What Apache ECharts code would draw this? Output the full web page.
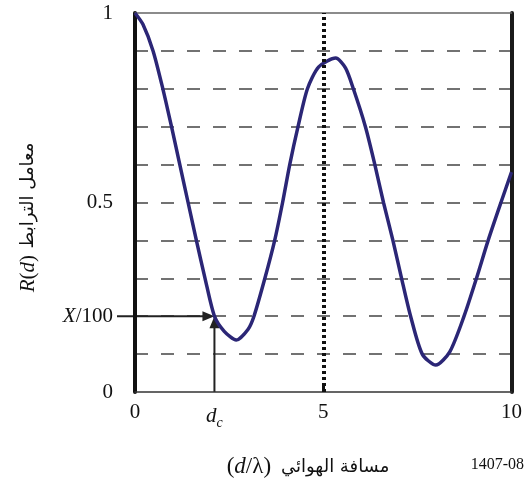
<!DOCTYPE html>
<html>
<head>
<meta charset="utf-8">
<script src="https://cdn.jsdelivr.net/npm/echarts@6/dist/echarts.min.js"></script>
<style>
  html, body { margin: 0; padding: 0; background: #fff; }
  #chart { width: 525px; height: 486px; }
</style>
</head>
<body>
<div id="chart"></div>
<script>
// distance d/lambda and correlation R(d)
const dValues = [0, 0.21, 0.48, 0.74, 0.97, 1.19, 1.41, 1.63, 1.86, 2.11, 2.37, 2.69, 3.0, 3.16, 3.45, 3.71, 3.92, 4.11, 4.33, 4.58, 4.88, 5.33, 5.59, 5.8, 6.12, 6.37, 6.6, 6.85, 7.08, 7.32, 7.63, 7.99, 8.36, 8.74, 9.07, 9.38, 9.72, 10]
const rValues = [1.0, 0.97, 0.9, 0.8, 0.7, 0.6, 0.5, 0.4, 0.3, 0.2, 0.16, 0.137, 0.165, 0.2, 0.3, 0.4, 0.5, 0.6, 0.7, 0.8, 0.858, 0.881, 0.855, 0.8, 0.7, 0.6, 0.5, 0.4, 0.3, 0.2, 0.1, 0.071, 0.106, 0.2, 0.3, 0.4, 0.5, 0.58]

// threshold X/100 and the distance d_c where the curve first drops to it
const threshold = [0.2]
const dcValue = [2.11]
const xTicks = [0, 5, 10]
const yLabelValues = [0, 0.5, 1]

const serif = '"Liberation Serif", "DejaVu Serif", serif'
const arabic = '"DejaVu Sans", sans-serif'

const chart = echarts.init(document.getElementById('chart'))

const near = (a, b) => Math.abs(a - b) < 1e-6

const option = {
  animation: false,
  grid: { left: 135, right: 11, top: 13, bottom: 94 },
  xAxis: [
    {
      type: 'value',
      min: 0,
      max: 10,
      interval: 5,
      axisLine: { onZero: false, lineStyle: { color: '#333', width: 1.5 } },
      axisTick: {
        inside: true,
        length: 9,
        customValues: [5],
        lineStyle: { color: '#111', width: 3 },
      },
      axisLabel: {
        customValues: xTicks.concat(dcValue),
        margin: 10,
        fontFamily: serif,
        fontSize: 21,
        color: '#111',
        formatter: (v) => (near(v, dcValue[0]) ? '{i|d}{s|c}' : String(v)),
        rich: {
          i: { fontFamily: serif, fontStyle: 'italic', fontSize: 21, color: '#111' },
          s: { fontFamily: serif, fontStyle: 'italic', fontSize: 14, color: '#111', padding: [14, 0, 0, 0] },
        },
      },
      splitLine: { show: false },
    },
    {
      type: 'value',
      position: 'top',
      min: 0,
      max: 10,
      axisLine: { onZero: false, lineStyle: { color: '#666', width: 1.5 } },
      axisTick: { show: false },
      axisLabel: { show: false },
      splitLine: { show: false },
    },
  ],
  yAxis: [
    {
      type: 'value',
      min: 0,
      max: 1,
      interval: 0.1,
      axisLine: { show: true, onZero: false, lineStyle: { color: '#111', width: 4 } },
      axisTick: { show: false },
      axisLabel: {
        margin: 22,
        fontFamily: serif,
        fontSize: 21,
        color: '#111',
        formatter: (v) => {
          if (near(v, threshold[0])) return '{i|X}/100'
          for (const y of yLabelValues) if (near(v, y)) return String(y)
          return ''
        },
        rich: {
          i: { fontFamily: serif, fontStyle: 'italic', fontSize: 21, color: '#111' },
        },
      },
      splitLine: {
        show: true,
        showMinLine: false,
        showMaxLine: false,
        lineStyle: { color: '#444', width: 1.5, type: [13, 13] },
      },
    },
    {
      type: 'value',
      position: 'right',
      min: 0,
      max: 1,
      axisLine: { show: true, onZero: false, lineStyle: { color: '#1a1a1a', width: 4 } },
      axisTick: { show: false },
      axisLabel: { show: false },
      splitLine: { show: false },
    },
  ],
  series: [
    {
      type: 'line',
      data: dValues.map((d, i) => [d, rValues[i]]),
      smooth: 0.25,
      showSymbol: false,
      lineStyle: { color: '#2b2676', width: 3.5 },
      markLine: {
        silent: true,
        symbol: 'none',
        label: { show: false },
        lineStyle: { color: '#111', width: 4, type: [3, 3] },
        data: [{ xAxis: 5 }],
      },
    },
  ],
}

chart.setOption(option)

// arrows from X/100 to the curve and from d_c up to it
const pc = chart.convertToPixel({ gridIndex: 0 }, [dcValue[0], threshold[0]])
const p0 = chart.convertToPixel({ gridIndex: 0 }, [0, threshold[0]])
const pb = chart.convertToPixel({ gridIndex: 0 }, [dcValue[0], 0])
const pAxis = chart.convertToPixel({ gridIndex: 0 }, [0, 0])
const pTop = chart.convertToPixel({ gridIndex: 0 }, [0, 1])
const axisMidY = (pAxis[1] + pTop[1]) / 2
const arrowColor = '#222'

chart.setOption({
  graphic: [
    {
      type: 'line',
      shape: { x1: p0[0] - 18, y1: p0[1], x2: pc[0] - 8, y2: pc[1] },
      style: { stroke: arrowColor, lineWidth: 2 },
    },
    {
      type: 'polygon',
      shape: { points: [[pc[0], pc[1]], [pc[0] - 12, pc[1] - 5], [pc[0] - 12, pc[1] + 5]] },
      style: { fill: arrowColor },
    },
    {
      type: 'line',
      shape: { x1: pb[0], y1: pb[1], x2: pc[0], y2: pc[1] + 8 },
      style: { stroke: arrowColor, lineWidth: 2 },
    },
    {
      type: 'polygon',
      shape: { points: [[pc[0], pc[1]], [pc[0] - 5, pc[1] + 12], [pc[0] + 5, pc[1] + 12]] },
      style: { fill: arrowColor },
    },
    {
      // y axis title, rotated
      type: 'text',
      x: 28,
      y: axisMidY + 15,
      rotation: Math.PI / 2,
      style: {
        text: '{i|R}{n|(}{i|d}{n|)}  {a|معامل الترابط}',
        align: 'center',
        verticalAlign: 'middle',
        rich: {
          i: { fontFamily: serif, fontStyle: 'italic', fontSize: 21, fill: '#111' },
          n: { fontFamily: serif, fontSize: 21, fill: '#111' },
          a: { fontFamily: arabic, fontSize: 18, fill: '#111' },
        },
      },
    },
    {
      // x axis title
      type: 'text',
      x: 308,
      y: 467,
      style: {
        text: '{n|(}{i|d}{n|/λ)}   {a|مسافة الهوائي}',
        align: 'center',
        verticalAlign: 'middle',
        rich: {
          i: { fontFamily: serif, fontStyle: 'italic', fontSize: 23, fill: '#111' },
          n: { fontFamily: serif, fontSize: 23, fill: '#111' },
          a: { fontFamily: arabic, fontSize: 18, fill: '#111' },
        },
      },
    },
    {
      type: 'text',
      x: 524,
      y: 465,
      style: {
        text: '1407-08',
        align: 'right',
        verticalAlign: 'middle',
        fontFamily: serif,
        fontSize: 16,
        fill: '#111',
      },
    },
  ],
})
</script>
</body>
</html>
